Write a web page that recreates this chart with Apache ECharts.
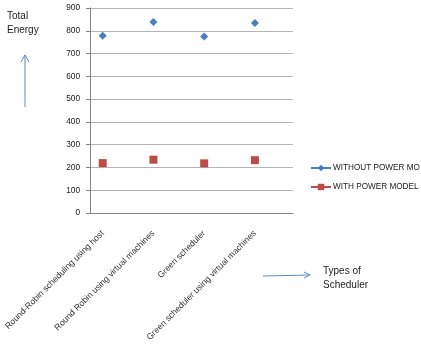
<!DOCTYPE html>
<html>
<head>
<meta charset="utf-8">
<script src="https://cdn.jsdelivr.net/npm/echarts@6/dist/echarts.min.js"></script>
<style>
  html, body { margin: 0; padding: 0; background: #fff; }
  #chart { width: 421px; height: 345px; }
</style>
</head>
<body>
<div id="chart"></div>
<script>
  // schedulers (the excel sheet had a blank row after each one)
  var schedulers = ['Round-Robin scheduling using host', 'Round Robin using virtual machines', 'Green scheduler', 'Green scheduler using virtual machines'];
  var withoutPower = [778, 838, 775, 834];
  var withPower = [219, 234, 218, 232];
  var yTicks = [0, 100, 200, 300, 400, 500, 600, 700, 800, 900];

  // spread into 8 slots, odd slots stay empty
  function spread(arr, blank) {
    var out = [];
    arr.forEach(function (v) { out.push(v); out.push(blank); });
    return out;
  }

  var font = 'Liberation Sans';
  var chart = echarts.init(document.getElementById('chart'));
  chart.setOption({
    animation: false,
    backgroundColor: '#fff',
    textStyle: { fontFamily: font },
    grid: { left: 90, right: 128, top: 8, bottom: 132 },
    legend: {
      orient: 'vertical',
      left: 305,
      top: 159,
      padding: 5,
      itemWidth: 20,
      itemHeight: 8,
      itemGap: 11,
      textStyle: { fontSize: 8.2, color: '#222', fontFamily: font, padding: [0, 0, 0, -3] },
      data: ['WITHOUT POWER MO', 'WITH POWER MODEL']
    },
    xAxis: {
      type: 'category',
      data: spread(schedulers, ''),
      axisLine: { lineStyle: { color: '#868686' } },
      axisTick: { interval: 0, length: 4, lineStyle: { color: '#868686' } },
      axisLabel: { interval: 0, rotate: 45, fontSize: 8.6, color: '#333', margin: 19 }
    },
    yAxis: {
      type: 'value',
      min: yTicks[0],
      max: yTicks[yTicks.length - 1],
      interval: 100,
      axisLine: { show: true, lineStyle: { color: '#868686' } },
      axisTick: { show: true, length: 4, lineStyle: { color: '#868686' } },
      axisLabel: { fontSize: 8.3, color: '#222', margin: 10 },
      splitLine: { lineStyle: { color: '#b4b4b4', width: 1 } }
    },
    series: [
      {
        name: 'WITHOUT POWER MO',
        type: 'line',
        data: spread(withoutPower, null),
        connectNulls: false,
        symbol: 'diamond',
        symbolSize: 8,
        itemStyle: { color: '#4a7ebb' },
        lineStyle: { color: '#4a7ebb', width: 1.5 }
      },
      {
        name: 'WITH POWER MODEL',
        type: 'line',
        data: spread(withPower, null),
        connectNulls: false,
        symbol: 'rect',
        symbolSize: 8,
        itemStyle: { color: '#be4b48' },
        lineStyle: { color: '#be4b48', width: 1.5 }
      }
    ],
    graphic: [
      { type: 'text', left: 7, top: 9, style: { text: 'Total\nEnergy', font: '10px ' + font, fill: '#222', lineHeight: 14 } },
      { type: 'line', shape: { x1: 25, y1: 107, x2: 25, y2: 55 }, style: { stroke: '#5b8cc7', lineWidth: 1 } },
      { type: 'polyline', shape: { points: [[21, 62], [25, 55], [29, 62]] }, style: { stroke: '#5b8cc7', lineWidth: 1, fill: null } },
      { type: 'text', left: 323, top: 264, style: { text: 'Types of\nScheduler', font: '10px ' + font, fill: '#222', lineHeight: 14 } },
      { type: 'line', shape: { x1: 263, y1: 276, x2: 310, y2: 275 }, style: { stroke: '#5b8cc7', lineWidth: 1 } },
      { type: 'polyline', shape: { points: [[304, 272], [310, 275], [304, 278]] }, style: { stroke: '#5b8cc7', lineWidth: 1, fill: null } }
    ]
  });
</script>
</body>
</html>
